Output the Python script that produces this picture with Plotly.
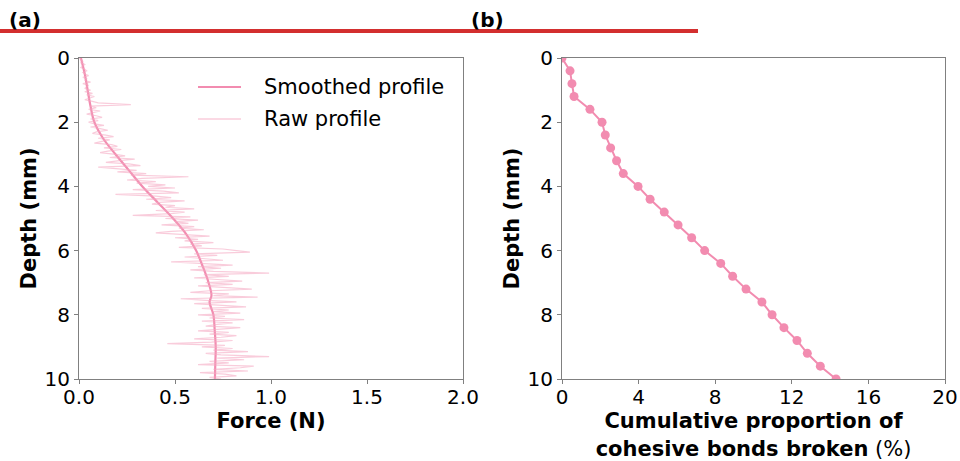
import plotly.graph_objects as go

# ---- Data ----
smooth_depth = [0, 0.5, 1.0, 1.5, 2.0, 2.5, 3.0, 3.5, 4.0, 4.5, 5.0, 5.5, 6.0, 6.5, 7.0, 7.4, 7.6, 8.0, 8.5, 9.0, 9.5, 10.0]
smooth_force = [0.01, 0.03, 0.045, 0.06, 0.08, 0.125, 0.19, 0.26, 0.33, 0.41, 0.49, 0.56, 0.61, 0.645, 0.675, 0.69, 0.68, 0.70, 0.707, 0.712, 0.71, 0.708]

raw_force = [
    0.00, 0.01, 0.02, 0.01, 0.03, 0.02, 0.01, 0.03, 0.04, 0.02, 0.03, 0.05, 0.02, 0.04, 0.03, 0.06, 0.02, 0.05, 0.04, 0.03,
    0.06, 0.03, 0.07, 0.04, 0.08, 0.05, 0.03, 0.07, 0.10, 0.27, 0.06, 0.09, 0.05, 0.11, 0.07, 0.04, 0.09, 0.12, 0.06, 0.10,
    0.05, 0.08, 0.13, 0.06, 0.11, 0.15, 0.09, 0.07, 0.14, 0.18, 0.10, 0.16, 0.12, 0.08, 0.17, 0.20, 0.13, 0.22, 0.15, 0.11,
    0.19, 0.24, 0.16, 0.29, 0.21, 0.14, 0.26, 0.32, 0.10, 0.23, 0.30, 0.20, 0.35, 0.27, 0.57, 0.33, 0.25, 0.40, 0.30, 0.45,
    0.36, 0.50, 0.28, 0.44, 0.52, 0.19, 0.40, 0.48, 0.35, 0.55, 0.42, 0.38, 0.50, 0.45, 0.60, 0.40, 0.55, 0.48, 0.28, 0.58,
    0.45, 0.62, 0.50, 0.57, 0.43, 0.60, 0.52, 0.65, 0.48, 0.40, 0.58, 0.68, 0.50, 0.62, 0.55, 0.70, 0.58, 0.64, 0.52, 0.75,
    0.82, 0.89, 0.60, 0.72, 0.55, 0.68, 0.75, 0.48, 0.66, 0.80, 0.62, 0.74, 0.58, 0.70, 0.99, 0.65, 0.78, 0.60, 0.72, 0.85,
    0.66, 0.80, 0.62, 0.74, 0.90, 0.68, 0.58, 0.78, 0.70, 0.93, 0.53, 0.66, 0.82, 0.60, 0.74, 0.87, 0.64, 0.78, 0.70, 0.84,
    0.62, 0.76, 0.68, 0.86, 0.64, 0.80, 0.72, 0.66, 0.84, 0.70, 0.62, 0.78, 0.68, 0.82, 0.74, 0.60, 0.80, 0.69, 0.46, 0.76,
    0.64, 0.80, 0.70, 0.88, 0.66, 0.74, 0.99, 0.72, 0.86, 0.68, 0.78, 0.62, 0.91, 0.84, 0.70, 0.88, 0.63, 0.76, 0.82, 0.68,
    0.74,
]
raw_depth = [i * 0.05 for i in range(len(raw_force))]

bond_depth = [0.0, 0.4, 0.8, 1.2, 1.6, 2.0, 2.4, 2.8, 3.2, 3.6, 4.0, 4.4, 4.8, 5.2, 5.6, 6.0, 6.4, 6.8, 7.2, 7.6, 8.0, 8.4, 8.8, 9.2, 9.6, 10.0]
bond_pct = [0.0, 0.42, 0.52, 0.63, 1.46, 2.09, 2.26, 2.54, 2.85, 3.2, 3.97, 4.6, 5.34, 6.06, 6.77, 7.45, 8.29, 8.91, 9.61, 10.44, 10.97, 11.59, 12.27, 12.81, 13.49, 14.31]

left_ticks = [0.0, 0.5, 1.0, 1.5, 2.0]
left_tick_text = ["0.0", "0.5", "1.0", "1.5", "2.0"]
right_ticks = [0, 4, 8, 12, 16, 20]
depth_ticks = [0, 2, 4, 6, 8, 10]
legend_labels = ["Smoothed profile", "Raw profile"]

PINK = "#f28cb0"
RAW = "rgba(245,170,195,0.6)"
FONT = "DejaVu Sans"
W, H = 960, 461

fig = go.Figure()
fig.add_trace(go.Scatter(x=smooth_force, y=smooth_depth, mode="lines", name=legend_labels[0],
                         line=dict(color=PINK, width=2.2, shape="spline"), xaxis="x", yaxis="y"))
fig.add_trace(go.Scatter(x=raw_force, y=raw_depth, mode="lines", name=legend_labels[1],
                         line=dict(color=RAW, width=1.2), xaxis="x", yaxis="y"))
fig.add_trace(go.Scatter(x=bond_pct, y=bond_depth, mode="lines+markers", showlegend=False,
                         line=dict(color=PINK, width=2), marker=dict(color=PINK, size=9),
                         xaxis="x2", yaxis="y2"))

ax_common = dict(showline=True, linecolor="#808080", linewidth=1, mirror=True, ticks="outside",
                 ticklen=4, tickcolor="#808080", showgrid=False, zeroline=False, automargin=False,
                 tickfont=dict(family=FONT, size=20, color="black"))
ydom = [1 - 379 / H, 1 - 58 / H]
TFONT = dict(family=FONT, size=21)

fig.update_layout(
    width=W, height=H, margin=dict(l=0, r=0, t=0, b=0, autoexpand=False),
    plot_bgcolor="white", paper_bgcolor="white",
    font=dict(family=FONT, color="black"),
    xaxis=dict(domain=[79 / W, 463 / W], range=[0, 2.0], tickvals=left_ticks, ticktext=left_tick_text,
               ticklabelstandoff=-4,
               title=dict(text="<b>Force (N)</b>", font=TFONT, standoff=5), **ax_common),
    yaxis=dict(domain=ydom, range=[10, 0], tickvals=depth_ticks,
               title=dict(text="<b>Depth (mm)</b>", font=TFONT, standoff=2), **ax_common),
    xaxis2=dict(domain=[562 / W, 945 / W], range=[0, 20], tickvals=right_ticks, anchor="y2",
                ticklabelstandoff=-4,
                title=dict(text="<b>Cumulative proportion of</b><br><b>cohesive bonds broken</b> (%)",
                           font=TFONT, standoff=5), **ax_common),
    yaxis2=dict(domain=ydom, range=[10, 0], tickvals=depth_ticks, anchor="x2",
                title=dict(text="<b>Depth (mm)</b>", font=TFONT, standoff=2), **ax_common),
    showlegend=False,
)

# manual legend (matplotlib-like spacing)
leg_y = [87, 119]
leg_styles = [dict(color=PINK, width=2.2), dict(color=RAW, width=1.5)]
for lab, yy, st in zip(legend_labels, leg_y, leg_styles):
    fig.add_shape(type="line", xref="paper", yref="paper", x0=198 / W, x1=241 / W,
                  y0=1 - yy / H, y1=1 - yy / H, line=st)
    fig.add_annotation(text=lab, xref="paper", yref="paper", x=262 / W, y=1 - yy / H,
                       xanchor="left", yanchor="middle", showarrow=False, font=dict(family=FONT, size=21))

fig.add_shape(type="line", xref="paper", yref="paper", x0=0, x1=698 / W, y0=1 - 31 / H, y1=1 - 31 / H,
              line=dict(color="#d32f2f", width=4))
fig.add_annotation(text="<b>(a)</b>", xref="paper", yref="paper", x=7 / W, y=1 - 20 / H,
                   xanchor="left", yanchor="middle", showarrow=False, font=dict(family=FONT, size=20))
fig.add_annotation(text="<b>(b)</b>", xref="paper", yref="paper", x=469 / W, y=1 - 20 / H,
                   xanchor="left", yanchor="middle", showarrow=False, font=dict(family=FONT, size=20))

fig.write_html("out.html", config={"displayModeBar": False},
               post_script="document.body.style.margin='0';document.body.style.overflow='hidden';")
